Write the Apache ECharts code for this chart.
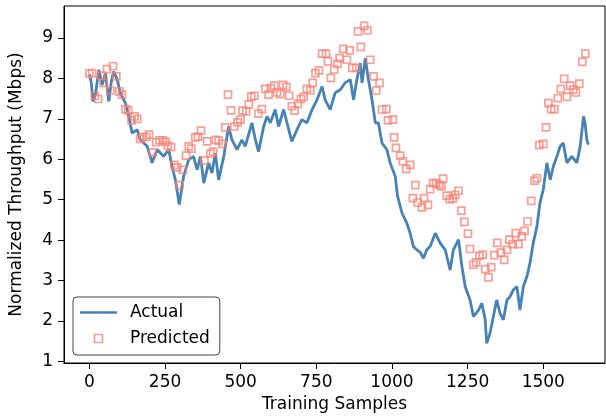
<!DOCTYPE html>
<html>
<head>
<meta charset="utf-8">
<script src="https://cdn.jsdelivr.net/npm/echarts/dist/echarts.min.js"></script>
<style>
  html, body { margin: 0; padding: 0; background: #fff; }
  #main { width: 606px; height: 420px; }
</style>
</head>
<body>
<div id="main"></div>
<script>
// values
let actualX = [0, 6, 12, 20, 31, 42, 53, 64, 72, 80, 92, 102, 119, 130, 141, 158, 168, 191, 207, 224,
  245, 262, 273, 284, 297, 311, 328, 344, 356, 367, 378, 394, 405, 416, 427, 444, 460, 471, 488, 504,
  515, 537, 548, 559, 576, 587, 598, 614, 625, 642, 653, 669, 686, 702, 719, 736, 752, 769, 779, 796,
  812, 829, 845, 862, 873, 884, 895, 901, 912, 922, 934, 945, 955, 967, 983, 994, 1011, 1018, 1033, 1049,
  1060, 1071, 1082, 1093, 1104, 1115, 1126, 1143, 1159, 1176, 1192, 1203, 1220, 1231, 1242, 1258, 1269, 1286, 1297, 1308,
  1313, 1324, 1335, 1346, 1357, 1368, 1380, 1390, 1401, 1413, 1423, 1434, 1446, 1456, 1467, 1479, 1489, 1500, 1512, 1523,
  1533, 1545, 1556, 1566, 1578, 1594, 1611, 1622, 1633, 1638, 1644, 1649];
let actualY = [8.10, 7.90, 7.43, 7.60, 8.21, 7.84, 8.13, 7.43, 7.90, 8.17, 7.97, 7.64, 7.39, 7.06, 6.65, 6.73, 6.48, 6.32, 5.91, 6.24,
  6.07, 6.24, 5.82, 5.49, 4.88, 5.57, 5.99, 6.07, 5.74, 6.07, 5.41, 5.91, 5.66, 6.15, 5.49, 6.07, 6.81, 6.48, 6.24, 6.48,
  6.32, 6.90, 6.50, 6.19, 6.81, 7.06, 6.90, 7.23, 6.81, 7.23, 6.90, 6.44, 6.73, 6.98, 6.90, 7.23, 7.47, 7.80, 7.47, 7.23,
  7.64, 7.72, 7.89, 7.97, 7.47, 7.97, 8.38, 7.89, 8.50, 7.97, 7.47, 6.90, 6.90, 6.40, 6.24, 5.91, 5.57, 5.10, 4.67, 4.42,
  4.17, 3.84, 3.76, 3.70, 3.55, 3.76, 3.84, 4.17, 3.93, 3.76, 3.26, 3.76, 4.01, 3.35, 2.85, 2.52, 2.11, 2.27, 2.44, 2.03,
  1.45, 1.70, 2.11, 2.52, 2.19, 2.03, 2.52, 2.60, 2.77, 2.85, 2.27, 2.85, 3.10, 3.43, 3.93, 4.34, 4.92, 5.25, 5.91, 5.49,
  5.82, 6.07, 6.32, 6.40, 5.91, 6.07, 5.91, 6.32, 7.06, 6.90, 6.48, 6.36];

let predX = [0, 9, 18, 29, 39, 47, 58, 69, 78, 89, 99, 108, 119, 128, 139, 149, 158, 168, 177, 188,
  197, 209, 221, 232, 243, 251, 259, 270, 281, 290, 298, 309, 319, 328, 337, 350, 359, 369, 380, 389,
  400, 409, 417, 427, 440, 449, 458, 468, 479, 490, 499, 506, 518, 527, 535, 545, 558, 570, 581, 592,
  600, 611, 620, 631, 640, 651, 660, 669, 678, 689, 699, 708, 719, 730, 738, 747, 759, 769, 782, 788,
  798, 809, 820, 827, 839, 851, 860, 869, 882, 888, 897, 908, 919, 928, 939, 948, 959, 967, 981, 987,
  1003, 1007, 1013, 1027, 1036, 1047, 1060, 1069, 1077, 1085, 1099, 1106, 1119, 1126, 1136, 1146, 1156, 1163, 1169, 1181,
  1191, 1201, 1209, 1220, 1229, 1239, 1251, 1258, 1269, 1278, 1289, 1300, 1308, 1319, 1328, 1338, 1348, 1360, 1371, 1380,
  1388, 1399, 1409, 1418, 1429, 1438, 1448, 1460, 1471, 1479, 1487, 1500, 1509, 1517, 1526, 1537, 1548, 1558, 1569, 1578,
  1589, 1599, 1608, 1619, 1629, 1639];
let predY = [8.12, 8.13, 7.57, 7.49, 8.07, 7.89, 8.23, 7.70, 8.30, 8.05, 7.68, 7.60, 7.24, 7.21, 6.96, 7.06, 7.00, 6.50, 6.55, 6.55,
  6.61, 6.17, 6.42, 6.47, 6.47, 6.43, 6.34, 6.30, 5.86, 5.80, 5.36, 5.74, 6.09, 6.32, 6.26, 6.54, 6.56, 6.71, 5.97, 6.44,
  6.14, 6.19, 6.48, 6.46, 6.38, 6.79, 7.60, 7.21, 6.81, 6.91, 6.98, 7.20, 7.18, 7.35, 7.55, 7.57, 7.13, 7.24, 7.74, 7.60,
  7.76, 7.82, 7.65, 7.61, 7.84, 7.79, 7.57, 7.31, 7.20, 7.37, 7.49, 7.54, 7.74, 7.70, 7.89, 8.13, 8.20, 8.61, 8.61, 8.42,
  8.01, 8.22, 8.36, 8.50, 8.73, 8.46, 8.69, 8.26, 8.26, 9.16, 8.78, 9.30, 9.19, 8.46, 8.05, 7.70, 7.89, 7.23, 7.24, 6.96,
  6.98, 6.54, 6.28, 6.09, 5.95, 5.76, 5.86, 5.04, 5.36, 4.93, 4.81, 5.04, 4.87, 5.26, 5.41, 5.41, 5.37, 5.33, 5.52, 5.10,
  5.01, 5.03, 5.12, 5.22, 4.73, 4.45, 4.16, 3.78, 3.39, 3.45, 3.61, 3.64, 3.28, 3.08, 3.33, 3.63, 3.93, 3.69, 3.51, 3.76,
  4.01, 3.90, 4.17, 3.90, 4.09, 4.23, 4.46, 4.97, 5.47, 5.53, 6.35, 6.38, 6.79, 7.39, 7.24, 7.24, 7.51, 7.74, 7.99, 7.54,
  7.82, 7.72, 7.65, 7.87, 8.41, 8.61];

let xTicks = [0, 250, 500, 750, 1000, 1250, 1500];
let yTicks = [1, 2, 3, 4, 5, 6, 7, 8, 9];

let font = "DejaVu Sans";
let blue = "#4682b4";
let salmon = "rgba(250,128,114,0.95)";
let myChart = echarts.init(document.getElementById("main"));

let option = {
  animation: false,
  backgroundColor: "#fff",
  grid: {
    left: 64,
    right: 1,
    top: 6,
    bottom: 57,
    show: true,
    borderColor: "#000",
    borderWidth: 1,
  },
  legend: {
    orient: "vertical",
    left: 73,
    top: 297,
    padding: [7, 10, 8, 7],
    itemGap: 9,
    itemWidth: 37,
    itemHeight: 8,
    backgroundColor: "#fff",
    borderColor: "#444",
    borderWidth: 1,
    borderRadius: 4,
    textStyle: { fontFamily: font, fontSize: 17, color: "#000", padding: [0, 0, 0, 8] },
    data: [
      { name: "Actual", icon: "path://M0,0h37v2.4h-37z", itemStyle: { color: blue, borderWidth: 0 } },
      {
        name: "Predicted",
        icon: "path://M0,0h10v10h-10z",
        itemStyle: { color: "rgba(0,0,0,0)", borderColor: salmon, borderWidth: 1.7 },
      },
    ],
  },
  xAxis: {
    type: "value",
    min: -84,
    max: 1704,
    name: "Training Samples",
    nameLocation: "middle",
    nameGap: 33,
    nameTextStyle: { fontFamily: font, fontSize: 17, color: "#000" },
    axisLine: { onZero: false, lineStyle: { color: "#000" } },
    axisTick: { length: 6, customValues: xTicks, lineStyle: { color: "#000" } },
    axisLabel: {
      customValues: xTicks,
      margin: 11,
      fontFamily: font,
      fontSize: 17,
      color: "#000",
      formatter: (v) => String(v),
    },
    splitLine: { show: false },
  },
  yAxis: {
    type: "value",
    min: 0.96,
    max: 9.79,
    name: "Normalized Throughput (Mbps)",
    nameLocation: "middle",
    nameGap: 39,
    nameTextStyle: { fontFamily: font, fontSize: 17, color: "#000" },
    axisLine: { show: true, onZero: false, lineStyle: { color: "#000" } },
    axisTick: { show: true, length: 6, customValues: yTicks, lineStyle: { color: "#000" } },
    axisLabel: {
      customValues: yTicks,
      margin: 11,
      fontFamily: font,
      fontSize: 17,
      color: "#000",
      formatter: (v) => String(v),
    },
    splitLine: { show: false },
  },
  series: [
    {
      name: "Actual",
      type: "line",
      symbol: "none",
      showSymbol: false,
      data: actualX.map((x, i) => [x, actualY[i]]),
      lineStyle: { color: blue, width: 2.8 },
      itemStyle: { color: blue },
      z: 2,
    },
    {
      name: "Predicted",
      type: "scatter",
      symbol: "rect",
      symbolSize: 7,
      data: predX.map((x, i) => [x, predY[i]]),
      itemStyle: {
        color: "rgba(0,0,0,0)",
        borderColor: salmon,
        borderWidth: 1.7,
      },
      z: 3,
    },
  ],
};

myChart.setOption(option);
</script>
</body>
</html>
